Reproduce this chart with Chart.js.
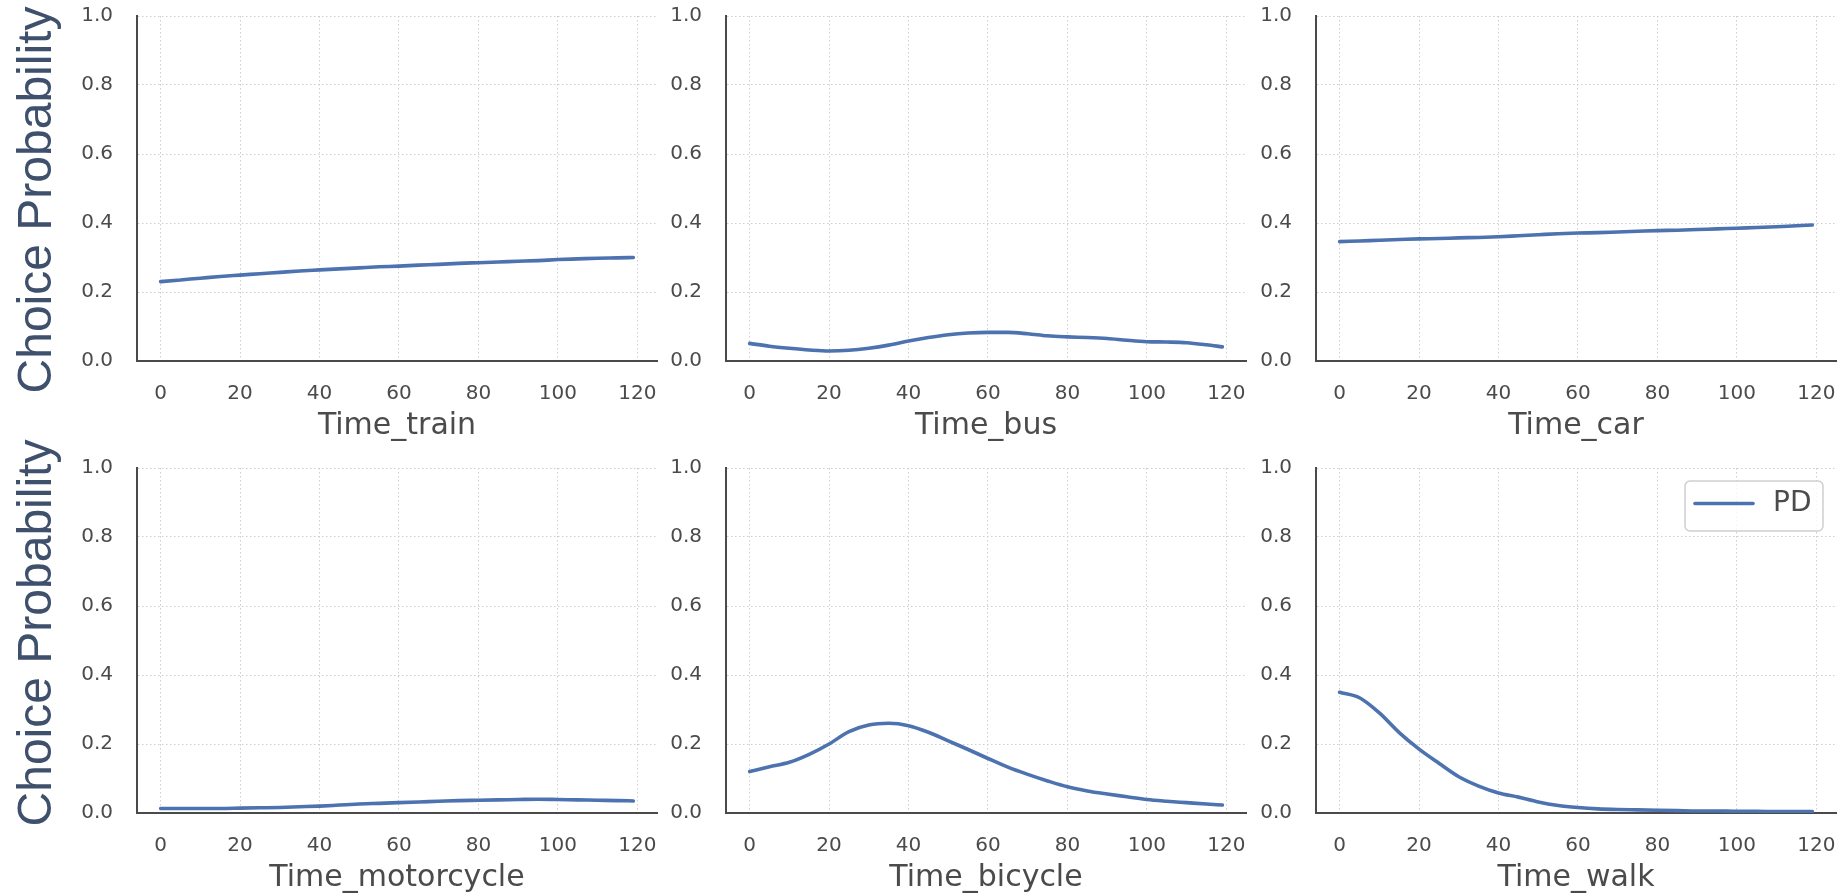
<!DOCTYPE html>
<html>
<head>
<meta charset="utf-8">
<script src="https://cdn.jsdelivr.net/npm/chart.js@4.4.1/dist/chart.umd.min.js"></script>
<style>
html,body{margin:0;padding:0;background:#ffffff;overflow:hidden;width:1848px;height:896px;}
.cell{position:absolute;}
.cell canvas{display:block;}
</style>
</head>
<body>
<script>
// ---------------- data ----------------
const timeGrid = [0,5,10,15,20,25,30,35,40,45,50,55,60,65,70,75,80,85,90,95,100,105,110,115,119];

const trainProb = [0.230,0.235,0.240,0.245,0.249,0.253,0.257,0.261,0.264,0.267,0.270,0.273,0.275,0.278,0.280,0.283,0.285,0.287,0.289,0.291,0.294,0.296,0.298,0.299,0.300];
const busProb = [0.051,0.043,0.037,0.032,0.029,0.031,0.037,0.046,0.058,0.068,0.076,0.081,0.083,0.083,0.079,0.073,0.070,0.068,0.065,0.060,0.056,0.055,0.053,0.047,0.041];
const carProb = [0.346,0.348,0.350,0.352,0.354,0.355,0.357,0.358,0.360,0.363,0.366,0.369,0.371,0.372,0.374,0.376,0.378,0.379,0.381,0.383,0.385,0.387,0.389,0.392,0.394];
const motorcycleProb = [0.013,0.013,0.013,0.013,0.014,0.015,0.016,0.018,0.020,0.023,0.026,0.028,0.030,0.032,0.034,0.036,0.037,0.038,0.039,0.040,0.039,0.038,0.037,0.036,0.035];
const bicycleProb = [0.120,0.134,0.147,0.170,0.200,0.236,0.255,0.260,0.253,0.234,0.209,0.184,0.158,0.133,0.112,0.093,0.076,0.064,0.055,0.047,0.039,0.034,0.030,0.026,0.023];
const walkProb = [0.350,0.334,0.290,0.233,0.185,0.144,0.105,0.078,0.058,0.046,0.032,0.022,0.016,0.012,0.010,0.009,0.008,0.007,0.006,0.006,0.005,0.005,0.004,0.004,0.004];

const panelTitles = ['Time_train','Time_bus','Time_car','Time_motorcycle','Time_bicycle','Time_walk'];
const xTicks = [0,20,40,60,80,100,120];
const yTicks = [0.0,0.2,0.4,0.6,0.8,1.0];
const yTickLabels = ['0.0','0.2','0.4','0.6','0.8','1.0'];
const seriesLabel = 'PD';
const yAxisTitle = 'Choice Probability';

const allSeries = [trainProb, busProb, carProb, motorcycleProb, bicycleProb, walkProb];

// ---------------- layout / style ----------------
const colLeft = [137, 726, 1316];
const rowTop = [16, 468];
const rowPadTop = [16, 30];
const plotW = 520, plotH = 345, xAxisH = 82, padRight = 6;
const lineColor = '#4c72b0';
const textColor = '#4b4b4b';
const spineColor = '#4a4a4a';
const gridColor = '#cecece';
const yTitleColor = '#3f506c';
const yTitleCenters = [200, 633];
const yTitleBaselineX = 51;

Chart.defaults.font.family = "'DejaVu Sans', sans-serif";

function zeroPadding(s) {
  s.paddingTop = 0; s.paddingBottom = 0; s.paddingLeft = 0; s.paddingRight = 0;
}

for (let i = 0; i < 6; i++) {
  const r = Math.floor(i / 3), c = i % 3;
  const padTop = rowPadTop[r];
  const cLeft = c === 0 ? 0 : colLeft[c] - 95;
  const cTop = rowTop[r] - padTop;
  const yW = colLeft[c] - cLeft;
  const w = yW + plotW + padRight;
  const h = padTop + plotH + xAxisH;

  const div = document.createElement('div');
  div.className = 'cell';
  div.style.left = cLeft + 'px';
  div.style.top = cTop + 'px';
  div.style.width = w + 'px';
  div.style.height = h + 'px';
  const cv = document.createElement('canvas');
  div.appendChild(cv);
  document.body.appendChild(div);

  const extraPlugins = [];
  if (c === 0) {
    extraPlugins.push({
      id: 'yTitle' + i,
      afterDraw(chart) {
        const ctx = chart.ctx;
        ctx.save();
        ctx.translate(yTitleBaselineX - cLeft, yTitleCenters[r] - cTop);
        ctx.rotate(-Math.PI / 2);
        ctx.font = "48px 'Liberation Sans', Arial, sans-serif";
        ctx.fillStyle = yTitleColor;
        ctx.textAlign = 'center';
        ctx.textBaseline = 'alphabetic';
        ctx.fillText(yAxisTitle, 0, 0);
        ctx.restore();
      }
    });
  }
  if (i === 5) {
    extraPlugins.push({
      id: 'boxLegend',
      afterDraw(chart) {
        const ctx = chart.ctx, ca = chart.chartArea;
        const ds = chart.data.datasets[0];
        const bw = 138, bh = 50;
        const bx = ca.right - 13 - bw, by = ca.top + 13;
        ctx.save();
        ctx.beginPath();
        ctx.roundRect(bx, by, bw, bh, 5);
        ctx.fillStyle = 'rgba(255,255,255,0.8)';
        ctx.fill();
        ctx.lineWidth = 1.5;
        ctx.strokeStyle = '#cfcfcf';
        ctx.stroke();
        ctx.beginPath();
        ctx.moveTo(bx + 10, by + 22.5);
        ctx.lineTo(bx + 68, by + 22.5);
        ctx.lineWidth = 3.6;
        ctx.lineCap = 'round';
        ctx.strokeStyle = ds.borderColor;
        ctx.stroke();
        ctx.font = "28px 'DejaVu Sans', sans-serif";
        ctx.fillStyle = textColor;
        ctx.textAlign = 'left';
        ctx.textBaseline = 'middle';
        ctx.fillText(ds.label, bx + 88, by + 23);
        ctx.restore();
      }
    });
  }

  new Chart(cv, {
    type: 'line',
    data: {
      datasets: [{
        label: seriesLabel,
        data: timeGrid.map((t, k) => ({x: t, y: allSeries[i][k]})),
        borderColor: lineColor,
        backgroundColor: lineColor,
        borderWidth: 3.6,
        pointRadius: 0,
        pointHoverRadius: 0,
        cubicInterpolationMode: 'monotone',
        borderCapStyle: 'round',
        fill: false
      }]
    },
    options: {
      responsive: true,
      maintainAspectRatio: false,
      animation: false,
      events: [],
      layout: {padding: {top: padTop, left: 0, right: padRight, bottom: 0}},
      plugins: {legend: {display: false}, tooltip: {enabled: false}},
      scales: {
        x: {
          type: 'linear',
          min: -5.95,
          max: 124.95,
          afterBuildTicks: s => { s.ticks = xTicks.map(v => ({value: v})); },
          afterFit: s => { s.height = xAxisH; zeroPadding(s); },
          ticks: {
            padding: 21, color: textColor, font: {size: 20},
            autoSkip: false, maxRotation: 0,
            callback: v => String(v)
          },
          grid: {color: gridColor, lineWidth: 1, drawTicks: false},
          border: {display: true, color: spineColor, width: 2, dash: [1.5, 2.5]},
          title: {display: true, text: panelTitles[i], color: textColor, font: {size: 30, lineHeight: 1.1}, padding: 0}
        },
        y: {
          type: 'linear',
          min: 0,
          max: 1,
          afterBuildTicks: s => { s.ticks = yTicks.map(v => ({value: v})); },
          afterFit: s => { s.width = yW; zeroPadding(s); },
          ticks: {
            padding: 24, color: textColor, font: {size: 20},
            autoSkip: false,
            callback: (v, idx) => yTickLabels[idx]
          },
          grid: {color: gridColor, lineWidth: 1, drawTicks: false},
          border: {display: true, color: spineColor, width: 2, dash: [1.5, 2.5]}
        }
      }
    },
    plugins: extraPlugins
  });
}
</script>
</body>
</html>
